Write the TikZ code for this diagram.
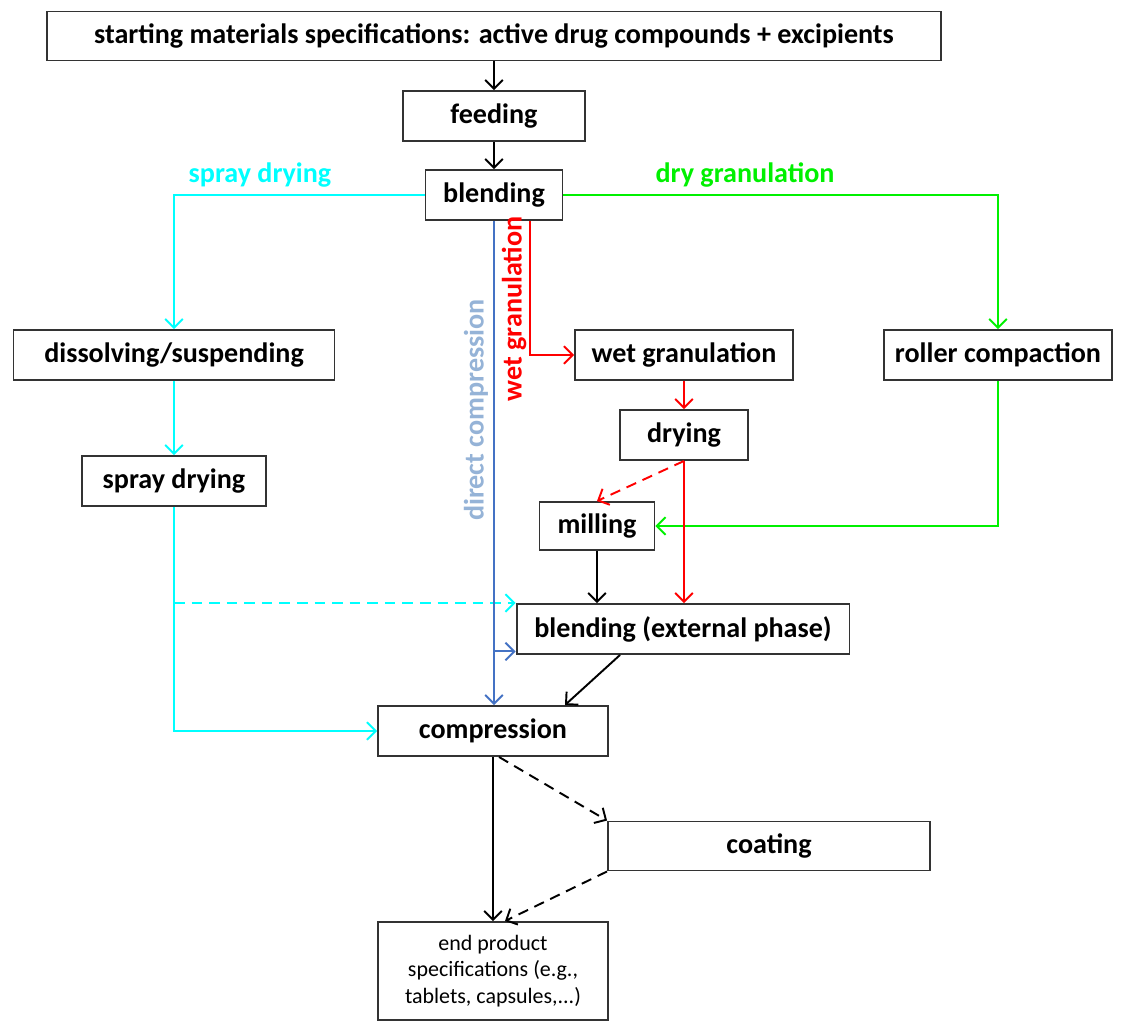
\documentclass[tikz,border=0pt]{standalone}
\usepackage{fontspec}
\setmainfont{Carlito}
\usetikzlibrary{arrows.meta}
\definecolor{spraycyan}{RGB}{0,255,255}
\definecolor{drygreen}{RGB}{0,240,0}
\definecolor{wetred}{RGB}{255,0,0}
\definecolor{directblue}{RGB}{68,114,196}
\definecolor{directlabel}{RGB}{149,179,215}

\begin{document}
\begin{tikzpicture}[x=0.02cm, y=-0.02cm,
		box/.style={draw=black!80, line width=1.1pt, inner sep=0pt, minimum height=1cm, font=\fontsize{16}{19}\selectfont\bfseries},
		lbl/.style={inner sep=0pt, font=\fontsize{16}{19}\selectfont\bfseries},
		flow/.style={line width=1.1pt, -{Straight Barb[length=5pt,width=10pt]}},
		dashflow/.style={flow, dash pattern=on 6pt off 4pt}]
		%%%%% START %%%%%
		
		\useasboundingbox (0,0) rectangle (1123,1021);
		
		\node[box, minimum width=17.88cm, minimum height=0.98cm] (start) at (494,36) {starting materials specifications: active drug compounds + excipients};
		\node[box, minimum width=3.64cm] (feed) at (494,116) {feeding};
		\node[box, minimum width=2.74cm] (blend) at (494,195) {blending};
		
		\node[lbl, text=spraycyan] (lblspray) at (260,175) {spray drying};
		\node[lbl, text=drygreen] (lbldry) at (745,175) {dry granulation};
		
		\node[box, minimum width=6.42cm] (dissolve) at (174,355) {dissolving/suspending};
		\node[box, minimum width=3.68cm] (spray) at (174,481) {spray drying};
		\node[box, minimum width=4.36cm] (wetgran) at (684,355) {wet granulation};
		\node[box, minimum width=4.56cm] (roller) at (998,355) {roller compaction};
		\node[box, minimum width=2.56cm] (drying) at (684,435) {drying};
		\node[box, minimum width=2.3cm, minimum height=0.96cm] (mill) at (597,526) {milling};
		\node[box, minimum width=6.66cm] (extblend) at (683,629) {blending (external phase)};
		\node[box, minimum width=4.6cm] (compr) at (493,731) {compression};
		\node[box, minimum width=6.44cm, minimum height=0.98cm] (coat) at (769,846) {coating};
		\node[box, minimum width=4.6cm, minimum height=1.96cm, align=center, font=\fontsize{12.5}{15.2}\selectfont] (endprod) at (493,971) {end product\\specifications (e.g.,\\tablets, capsules,...)};
		
		\node[lbl, rotate=90, text=directlabel] (lbldirect) at (476,410) {direct compression};
		\node[lbl, rotate=90, text=wetred] (lblwet) at (514,309) {wet granulation};
		
		% main line
		\draw[flow] (start) -- (feed);
		\draw[flow] (feed) -- (blend);
		
		% spray drying
		\draw[flow, spraycyan] (blend.west) -| (dissolve.north);
		\draw[flow, spraycyan] (dissolve) -- (spray);
		\draw[flow, spraycyan] (spray.south) |- (compr.west);
		\draw[dashflow, spraycyan] (spray.south |- extblend.north west) -- (extblend.north west);
		
		% dry granulation
		\draw[flow, drygreen] (blend.east) -| (roller.north);
		\draw[flow, drygreen] (roller.south) |- (mill.east);
		
		% wet granulation
		\draw[flow, wetred] ([xshift=0.72cm]blend.south) |- (wetgran.west);
		\draw[flow, wetred] (wetgran) -- (drying);
		\draw[dashflow, wetred] (drying.south) -- (mill.north);
		\draw[flow, wetred] (drying.south) -- (drying.south |- extblend.north);
		\draw[flow] (mill.south) -- (mill.south |- extblend.north);
		
		% direct compression
		\draw[flow, directblue] (blend.south) -- (blend.south |- compr.north);
		\draw[flow, directblue] ([yshift=2pt]blend.south |- extblend.south west) -- ([yshift=2pt]extblend.south west);
		
		\draw[flow] ([xshift=-1.26cm]extblend.south) -- ([xshift=1.44cm]compr.north);
		\draw[flow] (compr) -- (endprod);
		\draw[dashflow] ([xshift=0.12cm]compr.south) -- (coat.north west);
		\draw[dashflow] (coat.south west) -- ([xshift=0.24cm]endprod.north);
		
		%%%%% END %%%%%
	\end{tikzpicture}
\end{document}
